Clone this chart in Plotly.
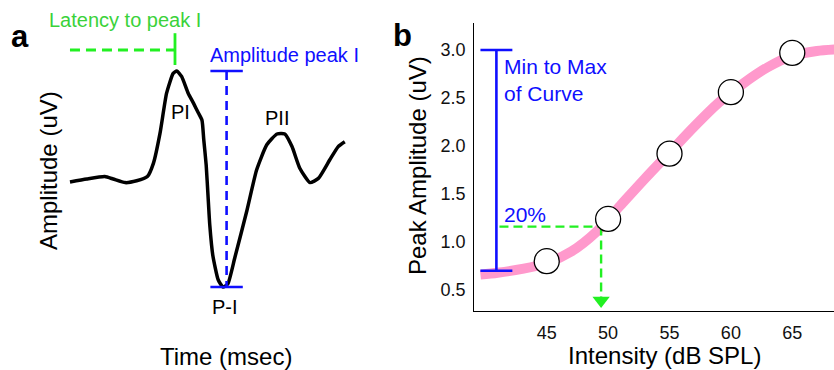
import plotly.graph_objects as go

# ---------------- data ----------------
# Panel a: ABR waveform (time in msec, amplitude in uV, arbitrary scale)
wave_time = [0.00, 0.28, 0.58, 0.72, 0.92, 1.11, 1.29, 1.39, 1.50, 1.61, 1.72, 1.78, 1.86,
             1.97, 2.06, 2.14, 2.20, 2.23, 2.27, 2.30, 2.33, 2.38, 2.47, 2.55, 2.63, 2.75,
             2.95, 3.11, 3.28, 3.45, 3.58, 3.70, 3.83, 4.00, 4.14, 4.33, 4.47, 4.58]
wave_amp = [0.00, 0.05, 0.09, 0.05, -0.01, 0.02, 0.09, 0.31, 0.81, 1.48, 1.81, 1.85, 1.76,
            1.48, 1.31, 1.15, 1.03, 0.70, 0.28, -0.22, -0.72, -1.22, -1.63, -1.75, -1.70, -1.25,
            -0.47, 0.20, 0.62, 0.80, 0.80, 0.59, 0.23, -0.01, 0.06, 0.37, 0.59, 0.67]

# Panel b: input/output function
intensity = [45, 50, 55, 60, 65]
peak_amp = [0.80, 1.24, 1.92, 2.56, 2.97]
fit_x = [39.6, 41, 43, 45, 47, 49, 51, 53, 55, 57, 59, 61, 63, 65, 67, 69]
fit_y = [0.66, 0.68, 0.72, 0.78, 0.90, 1.10, 1.38, 1.66, 1.93, 2.20, 2.45, 2.65, 2.82, 2.94, 2.99, 3.01]
curve_min, curve_max = 0.70, 3.00
pct = 0.20
x_ticks = [45, 50, 55, 60, 65]
y_ticks = [0.5, 1.0, 1.5, 2.0, 2.5, 3.0]
y_ticktext = ["0.5", "1.0", "1.5", "2.0", "2.5", "3.0"]

# ---------------- styles ----------------
W, H = 834, 370
FONT = "Liberation Sans, Arial, sans-serif"
BLUE = "#0f0fff"
GREEN_LINE = "#22f022"
GREEN_TEXT = "#3ad23a"
PINK = "#ff99cc"


def px(x):
    return x / W


def py(y):
    return 1 - y / H


fig = go.Figure()

# ---------- panel a ----------
peak_i = wave_amp.index(max(wave_amp))
trough_i = wave_amp.index(min(wave_amp))
peak_t = wave_time[peak_i]
peak_a = wave_amp[peak_i]
trough_a = wave_amp[trough_i]
amp_x = 2.61
cap_half = 0.27

fig.add_trace(go.Scatter(x=wave_time, y=wave_amp, mode="lines",
                         line=dict(color="black", width=3.5, shape="spline", smoothing=0.5),
                         xaxis="x2", yaxis="y2", hoverinfo="skip"))
# latency dashed
fig.add_trace(go.Scatter(x=[wave_time[0], peak_t - 0.04], y=[2.2, 2.2], mode="lines",
                         line=dict(color=GREEN_LINE, width=2.8, dash="10px,6px"),
                         xaxis="x2", yaxis="y2", hoverinfo="skip"))
fig.add_trace(go.Scatter(x=[peak_t - 0.03, peak_t - 0.03], y=[2.48, 1.95], mode="lines",
                         line=dict(color=GREEN_LINE, width=2.8),
                         xaxis="x2", yaxis="y2", hoverinfo="skip"))
# amplitude bracket
fig.add_trace(go.Scatter(x=[amp_x, amp_x], y=[peak_a, trough_a], mode="lines",
                         line=dict(color=BLUE, width=2.6, dash="9px,6px"),
                         xaxis="x2", yaxis="y2", hoverinfo="skip"))
for yy in (peak_a, trough_a):
    fig.add_trace(go.Scatter(x=[amp_x - cap_half, amp_x + cap_half], y=[yy, yy], mode="lines",
                             line=dict(color=BLUE, width=2.6),
                             xaxis="x2", yaxis="y2", hoverinfo="skip"))

# ---------- panel b ----------
thr = curve_min + pct * (curve_max - curve_min)
cross_x = fit_x[0]
for i in range(len(fit_y) - 1):
    if fit_y[i] <= thr <= fit_y[i + 1]:
        f = (thr - fit_y[i]) / (fit_y[i + 1] - fit_y[i])
        cross_x = fit_x[i] + f * (fit_x[i + 1] - fit_x[i])
        break

fig.add_trace(go.Scatter(x=fit_x, y=fit_y, mode="lines",
                         line=dict(color=PINK, width=10, shape="spline", smoothing=0.8),
                         xaxis="x", yaxis="y", hoverinfo="skip"))
bx = 40.9
fig.add_trace(go.Scatter(x=[bx, bx], y=[curve_min, curve_max], mode="lines",
                         line=dict(color=BLUE, width=2.6), xaxis="x", yaxis="y", hoverinfo="skip"))
for yy in (curve_min, curve_max):
    fig.add_trace(go.Scatter(x=[39.6, 42.2], y=[yy, yy], mode="lines",
                             line=dict(color=BLUE, width=2.6), xaxis="x", yaxis="y", hoverinfo="skip"))
fig.add_trace(go.Scatter(x=[bx + 0.25, cross_x], y=[thr, thr], mode="lines",
                         line=dict(color=GREEN_LINE, width=2.4, dash="9px,5px"),
                         xaxis="x", yaxis="y", hoverinfo="skip"))
fig.add_trace(go.Scatter(x=[cross_x, cross_x], y=[thr, 0.42], mode="lines",
                         line=dict(color=GREEN_LINE, width=2.4, dash="9px,5px"),
                         xaxis="x", yaxis="y", hoverinfo="skip"))
fig.add_trace(go.Scatter(x=[cross_x], y=[0.39], mode="markers",
                         marker=dict(symbol="triangle-down", size=15, color=GREEN_LINE, line=dict(width=0)),
                         xaxis="x", yaxis="y", hoverinfo="skip"))
fig.add_trace(go.Scatter(x=intensity, y=peak_amp, mode="markers",
                         marker=dict(symbol="circle", size=25, color="white",
                                     line=dict(color="black", width=1.3)),
                         xaxis="x", yaxis="y", hoverinfo="skip", cliponaxis=False))

ann = []


def add_text(text, x, y, size, color="black", xanchor="center", yanchor="middle",
             bold=False, angle=0, align="center"):
    t = f"<b>{text}</b>" if bold else text
    ann.append(dict(text=t, x=x, y=y, xref="paper", yref="paper", showarrow=False,
                    xanchor=xanchor, yanchor=yanchor, textangle=angle, align=align,
                    font=dict(family=FONT, size=size, color=color)))


# panel a text
add_text("a", px(20), py(36), 31, bold=True)
add_text("Latency to peak I", px(125), py(20), 20, color=GREEN_TEXT)
add_text("Amplitude peak I", px(208), py(55), 20, color=BLUE, xanchor="left")
add_text("PI", px(180), py(112), 20)
add_text("PII", px(277), py(118), 20)
add_text("P-I", px(225), py(307), 20)
add_text("Amplitude (uV)", px(49), py(171), 24, angle=-90)
add_text("Time (msec)", px(226), py(356), 24)

# panel b text
add_text("b", px(402), py(35), 31, bold=True)
add_text("Min to Max<br>of Curve", px(502), py(80), 21, color=BLUE, xanchor="left", align="left")
add_text("20%", px(502), py(215), 21, color=BLUE, xanchor="left")
add_text("Peak Amplitude (uV)", px(417), py(166), 24, angle=-90)
add_text("Intensity (dB SPL)", px(664), py(355), 24)

fig.update_layout(
    width=W, height=H,
    margin=dict(l=0, r=0, t=0, b=0),
    paper_bgcolor="white", plot_bgcolor="white",
    showlegend=False,
    font=dict(family=FONT, color="black"),
    annotations=ann,
    xaxis=dict(domain=[px(474.3), 1.0], range=[39.1, 68.4], showline=True, linecolor="black",
               linewidth=1.3, showgrid=False, zeroline=False, ticks="", tickvals=x_ticks,
               tickfont=dict(size=18, family=FONT, color="#111"), anchor="y", ticklabelstandoff=5),
    yaxis=dict(domain=[py(311), py(23)], range=[0.281, 3.281], showline=True, linecolor="black",
               linewidth=1.3, showgrid=False, zeroline=False, ticks="", tickvals=y_ticks,
               ticktext=y_ticktext, tickfont=dict(size=18, family=FONT, color="#111"), anchor="x",
               ticklabelstandoff=4),
    xaxis2=dict(domain=[px(50), px(370)], range=[-0.333, 5.0], visible=False, anchor="y2"),
    yaxis2=dict(domain=[py(320), py(20)], range=[-2.3, 2.7], visible=False, anchor="x2"),
)

fig.write_html("out.html")
